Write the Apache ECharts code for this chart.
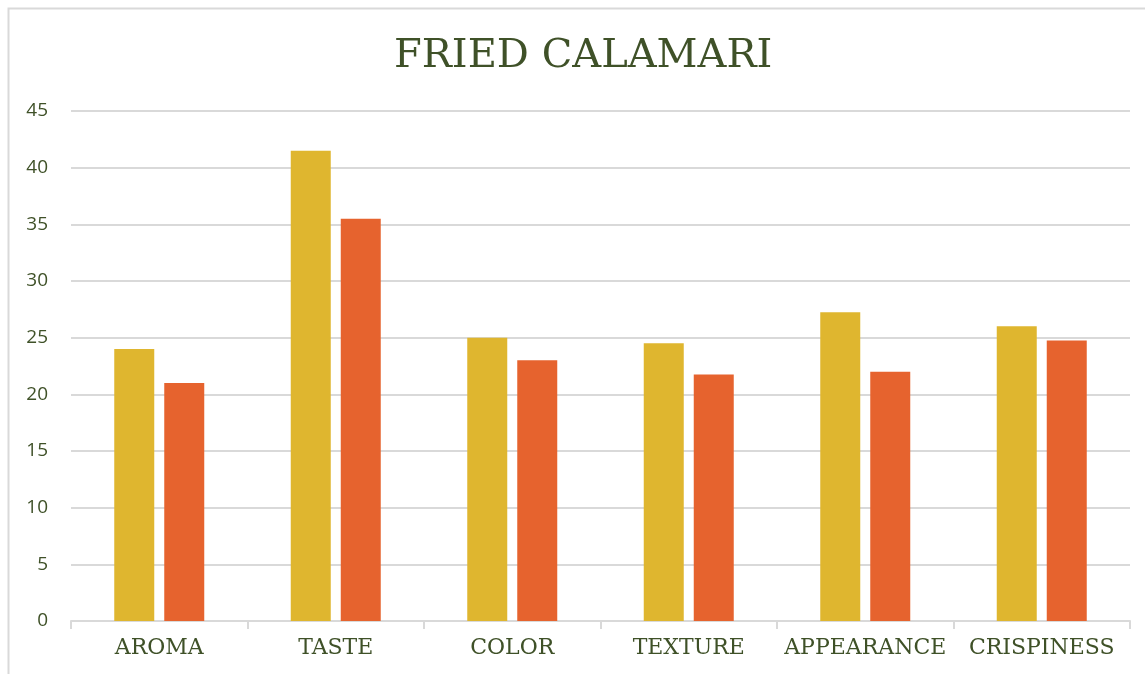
<!DOCTYPE html>
<html>
<head>
    <meta charset="utf-8">
    <title>Fried Calamari</title>
    <script src="https://cdn.jsdelivr.net/npm/echarts@6/dist/echarts.min.js"></script>
    <style type="text/css">
        html, body { margin: 0; padding: 0; background: #fff; }
        #main { width: 1145px; height: 674px; }
    </style>
</head>
<body>
<div id="main"></div>
<script type="text/javascript">
    var categories = ['AROMA', 'TASTE', 'COLOR', 'TEXTURE', 'APPEARANCE', 'CRISPINESS'];
    var seriesA = [24, 41.5, 25, 24.5, 27.25, 26];
    var seriesB = [21, 35.5, 23, 21.75, 22, 24.75];
    var yTicks = [0, 5, 10, 15, 20, 25, 30, 35, 40, 45];

    var textColor = '#3f5128';
    var myChart = echarts.init(document.getElementById('main'));
    myChart.setOption({
        animation: false,
        graphic: [{
            type: 'rect',
            left: 6, top: 6,
            shape: { width: 1200, height: 720 },
            style: { fill: 'none', stroke: '#d9d9d9', lineWidth: 2 }
        }],
        title: {
            text: 'FRIED CALAMARI',
            left: 389,
            top: 32,
            textStyle: {
                fontFamily: 'DejaVu Serif',
                fontWeight: 'normal',
                fontSize: 40,
                color: textColor
            }
        },
        grid: { left: 71, right: 15, top: 111, bottom: 53, containLabel: false },
        xAxis: {
            type: 'category',
            data: categories,
            axisLine: { lineStyle: { color: '#d9d9d9', width: 2 } },
            axisTick: { show: true, interval: 0, length: 8, lineStyle: { color: '#d9d9d9', width: 2 } },
            axisLabel: {
                interval: 0,
                fontFamily: 'DejaVu Serif',
                fontSize: 22,
                color: textColor,
                margin: 16
            }
        },
        yAxis: {
            type: 'value',
            min: yTicks[0],
            max: yTicks[yTicks.length - 1],
            interval: 5,
            axisLine: { show: false },
            axisTick: { show: false },
            splitLine: { lineStyle: { color: '#d9d9d9', width: 2 } },
            axisLabel: {
                fontFamily: 'Open Sans',
                fontSize: 19,
                color: textColor,
                margin: 23
            }
        },
        series: [{
            name: 'A',
            type: 'bar',
            data: seriesA,
            barWidth: 40,
            barGap: '25%',
            itemStyle: { color: '#dfb62f' }
        }, {
            name: 'B',
            type: 'bar',
            data: seriesB,
            barWidth: 40,
            itemStyle: { color: '#e6632e' }
        }]
    });
</script>
</body>
</html>
